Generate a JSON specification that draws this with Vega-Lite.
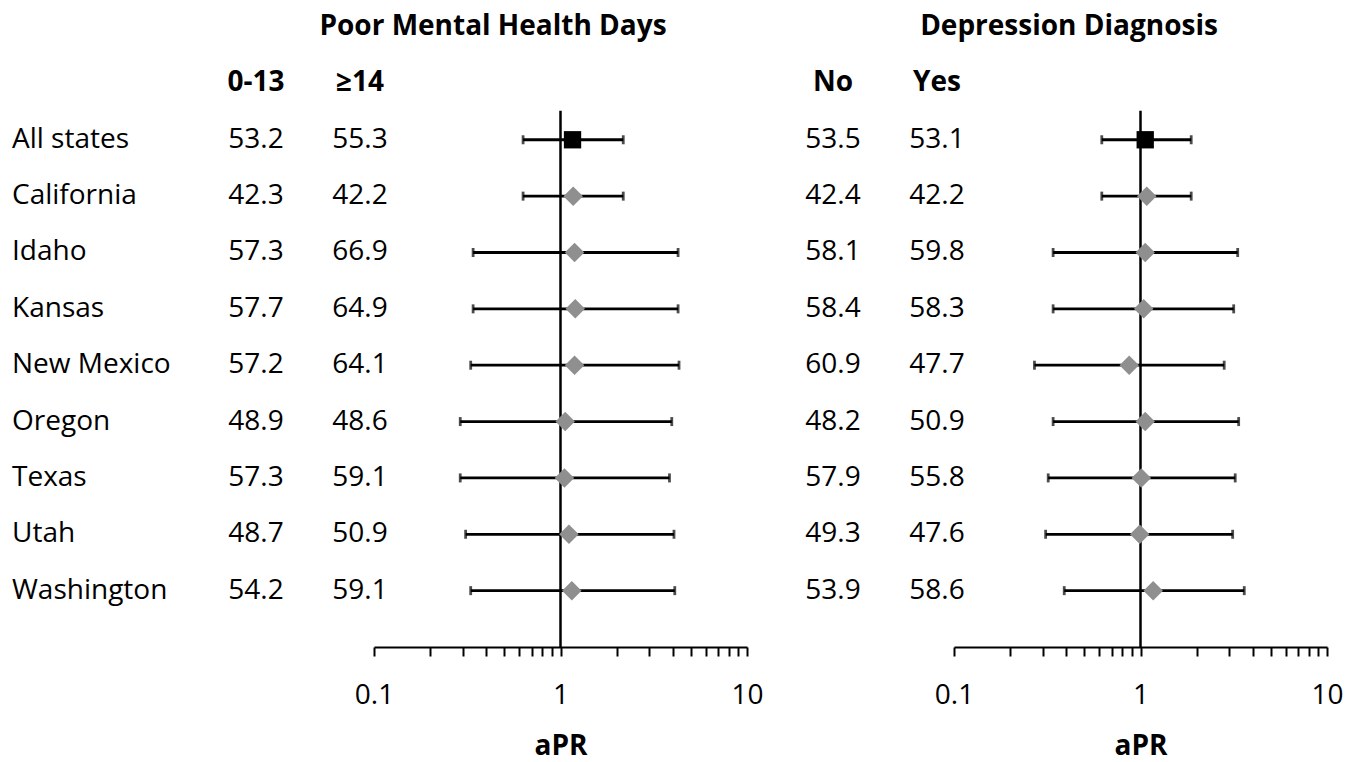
{
  "$schema": "https://vega.github.io/schema/vega-lite/v6.json",
  "width": 1363,
  "height": 647,
  "padding": {"left": 0, "top": 0, "right": 0, "bottom": 115},
  "autosize": {"type": "none"},
  "background": "white",
  "config": {
    "view": {"stroke": null},
    "text": {"font": "Open Sans", "fontSize": 28, "color": "black"},
    "axis": {"labelFont": "Open Sans", "titleFont": "Open Sans"}
  },
  "datasets": {
    "rows": [
      {"state": "All states", "mh_0_13": 53.2, "mh_ge14": 55.3, "mh_apr": 1.16, "mh_lo": 0.63, "mh_hi": 2.17, "dep_no": 53.5, "dep_yes": 53.1, "dep_apr": 1.06, "dep_lo": 0.62, "dep_hi": 1.87},
      {"state": "California", "mh_0_13": 42.3, "mh_ge14": 42.2, "mh_apr": 1.17, "mh_lo": 0.63, "mh_hi": 2.17, "dep_no": 42.4, "dep_yes": 42.2, "dep_apr": 1.08, "dep_lo": 0.62, "dep_hi": 1.87},
      {"state": "Idaho", "mh_0_13": 57.3, "mh_ge14": 66.9, "mh_apr": 1.19, "mh_lo": 0.34, "mh_hi": 4.27, "dep_no": 58.1, "dep_yes": 59.8, "dep_apr": 1.06, "dep_lo": 0.34, "dep_hi": 3.32},
      {"state": "Kansas", "mh_0_13": 57.7, "mh_ge14": 64.9, "mh_apr": 1.2, "mh_lo": 0.34, "mh_hi": 4.27, "dep_no": 58.4, "dep_yes": 58.3, "dep_apr": 1.04, "dep_lo": 0.34, "dep_hi": 3.16},
      {"state": "New Mexico", "mh_0_13": 57.2, "mh_ge14": 64.1, "mh_apr": 1.19, "mh_lo": 0.33, "mh_hi": 4.32, "dep_no": 60.9, "dep_yes": 47.7, "dep_apr": 0.87, "dep_lo": 0.27, "dep_hi": 2.81},
      {"state": "Oregon", "mh_0_13": 48.9, "mh_ge14": 48.6, "mh_apr": 1.06, "mh_lo": 0.29, "mh_hi": 3.95, "dep_no": 48.2, "dep_yes": 50.9, "dep_apr": 1.06, "dep_lo": 0.34, "dep_hi": 3.36},
      {"state": "Texas", "mh_0_13": 57.3, "mh_ge14": 59.1, "mh_apr": 1.05, "mh_lo": 0.29, "mh_hi": 3.84, "dep_no": 57.9, "dep_yes": 55.8, "dep_apr": 1.01, "dep_lo": 0.32, "dep_hi": 3.22},
      {"state": "Utah", "mh_0_13": 48.7, "mh_ge14": 50.9, "mh_apr": 1.11, "mh_lo": 0.31, "mh_hi": 4.06, "dep_no": 49.3, "dep_yes": 47.6, "dep_apr": 0.99, "dep_lo": 0.31, "dep_hi": 3.12},
      {"state": "Washington", "mh_0_13": 54.2, "mh_ge14": 59.1, "mh_apr": 1.15, "mh_lo": 0.33, "mh_hi": 4.1, "dep_no": 53.9, "dep_yes": 58.6, "dep_apr": 1.17, "dep_lo": 0.39, "dep_hi": 3.6}
    ],
    "headers": [
      {"row": "_hdr", "col": "mh_0_13", "label": "0-13"},
      {"row": "_hdr", "col": "mh_ge14", "label": "≥14"},
      {"row": "_hdr", "col": "dep_no", "label": "No"},
      {"row": "_hdr", "col": "dep_yes", "label": "Yes"},
      {"row": "_title", "col": "mh_title", "label": "Poor Mental Health Days"},
      {"row": "_title", "col": "dep_title", "label": "Depression Diagnosis"}
    ],
    "one": [{"ref": 1}]
  },
  "layer": [
    {
      "data": {"name": "rows"},
      "mark": {"type": "text", "align": "left", "baseline": "middle"},
      "encoding": {
        "x": {"datum": "label", "type": "nominal", "scale": {"type": "point", "domain": ["label"], "range": [12, 12], "padding": 0}, "axis": null},
        "y": {"field": "state", "type": "nominal", "scale": {"type": "point", "domain": ["_title", "_hdr", "All states", "California", "Idaho", "Kansas", "New Mexico", "Oregon", "Texas", "Utah", "Washington", "_axis"], "padding": 0.24, "align": 1}, "axis": null},
        "text": {"field": "state", "type": "nominal"},
        "fontWeight": {"condition": {"test": "datum.state === 'All states'", "value": "bold"}, "value": "normal"}
      }
    },
    {
      "layer": [
        {
          "data": {"name": "rows"},
          "transform": [{"fold": ["mh_0_13", "mh_ge14"], "as": ["col", "val"]}],
          "mark": {"type": "text", "align": "center", "baseline": "middle"},
          "encoding": {
            "x": {"field": "col", "type": "nominal", "scale": {"type": "point", "domain": ["mh_0_13", "mh_ge14"], "range": [256, 360], "padding": 0}, "axis": null},
            "y": {"field": "state", "type": "nominal", "axis": null},
            "text": {"field": "val", "type": "quantitative", "format": ".1f"}
          }
        },
        {
          "data": {"name": "headers"},
          "transform": [{"filter": {"field": "col", "oneOf": ["mh_0_13", "mh_ge14"]}}],
          "mark": {"type": "text", "align": "center", "baseline": "middle", "fontWeight": "bold"},
          "encoding": {
            "x": {"field": "col", "type": "nominal", "axis": null},
            "y": {"field": "row", "type": "nominal", "axis": null},
            "text": {"field": "label", "type": "nominal"}
          }
        }
      ]
    },
    {
      "layer": [
        {
          "data": {"name": "rows"},
          "transform": [{"fold": ["dep_no", "dep_yes"], "as": ["col", "val"]}],
          "mark": {"type": "text", "align": "center", "baseline": "middle"},
          "encoding": {
            "x": {"field": "col", "type": "nominal", "scale": {"type": "point", "domain": ["dep_no", "dep_yes"], "range": [833, 937], "padding": 0}, "axis": null},
            "y": {"field": "state", "type": "nominal", "axis": null},
            "text": {"field": "val", "type": "quantitative", "format": ".1f"}
          }
        },
        {
          "data": {"name": "headers"},
          "transform": [{"filter": {"field": "col", "oneOf": ["dep_no", "dep_yes"]}}],
          "mark": {"type": "text", "align": "center", "baseline": "middle", "fontWeight": "bold"},
          "encoding": {
            "x": {"field": "col", "type": "nominal", "axis": null},
            "y": {"field": "row", "type": "nominal", "axis": null},
            "text": {"field": "label", "type": "nominal"}
          }
        }
      ]
    },
    {
      "data": {"name": "headers"},
      "transform": [{"filter": {"field": "row", "equal": "_title"}}],
      "mark": {"type": "text", "align": "center", "baseline": "middle", "fontWeight": "bold"},
      "encoding": {
        "x": {"field": "col", "type": "nominal", "scale": {"type": "point", "domain": ["mh_title", "dep_title"], "range": [493, 1069], "padding": 0}, "axis": null},
        "y": {"field": "row", "type": "nominal", "axis": null},
        "text": {"field": "label", "type": "nominal"}
      }
    },
    {
      "layer": [
        {
          "data": {"name": "one"},
          "mark": {"type": "rule", "color": "black", "strokeWidth": 2.5, "yOffset": -29},
          "encoding": {
            "x": {"field": "ref", "type": "quantitative", "scale": {"type": "log", "domain": [0.1, 10], "range": [374, 747], "nice": false},
              "axis": {"orient": "bottom", "values": [0.1, 0.2, 0.3, 0.4, 0.5, 0.6, 0.7, 0.8, 0.9, 1, 2, 3, 4, 5, 6, 7, 8, 9, 10],
                "labelExpr": "datum.value == 0.1 || datum.value == 1 || datum.value == 10 ? '' + datum.value : ''",
                "labelOverlap": false, "labelFlush": false, "labelFontSize": 28, "labelColor": "black", "labelPadding": 25,
                "title": "aPR", "titleFontSize": 28, "titleFontWeight": "bold", "titleColor": "black", "titlePadding": 23,
                "grid": false, "domainColor": "black", "domainWidth": 2, "tickColor": "black", "tickWidth": 2, "tickSize": 9}},
            "y": {"datum": "All states", "axis": null},
            "y2": {"datum": "_axis"}
          }
        },
        {
          "data": {"name": "rows"},
          "mark": {"type": "rule", "color": "black", "strokeWidth": 2.8},
          "encoding": {
            "x": {"field": "mh_lo", "type": "quantitative"},
            "x2": {"field": "mh_hi"},
            "y": {"field": "state", "type": "nominal", "axis": null}
          }
        },
        {
          "data": {"name": "rows"},
          "mark": {"type": "tick", "color": "black", "thickness": 2.8, "size": 9},
          "encoding": {
            "x": {"field": "mh_lo", "type": "quantitative"},
            "y": {"field": "state", "type": "nominal", "axis": null}
          }
        },
        {
          "data": {"name": "rows"},
          "mark": {"type": "tick", "color": "black", "thickness": 2.8, "size": 9},
          "encoding": {
            "x": {"field": "mh_hi", "type": "quantitative"},
            "y": {"field": "state", "type": "nominal", "axis": null}
          }
        },
        {
          "data": {"name": "rows"},
          "mark": {"type": "point", "filled": true, "opacity": 1, "strokeWidth": 0},
          "encoding": {
            "x": {"field": "mh_apr", "type": "quantitative"},
            "y": {"field": "state", "type": "nominal", "axis": null},
            "shape": {"condition": {"test": "datum.state === 'All states'", "value": "square"}, "value": "diamond"},
            "color": {"condition": {"test": "datum.state === 'All states'", "value": "black"}, "value": "#8f8f8f"},
            "size": {"condition": {"test": "datum.state === 'All states'", "value": 300}, "value": 380}
          }
        }
      ]
    },
    {
      "layer": [
        {
          "data": {"name": "one"},
          "mark": {"type": "rule", "color": "black", "strokeWidth": 2.5, "yOffset": -29},
          "encoding": {
            "x": {"field": "ref", "type": "quantitative", "scale": {"type": "log", "domain": [0.1, 10], "range": [954, 1327], "nice": false},
              "axis": {"orient": "bottom", "values": [0.1, 0.2, 0.3, 0.4, 0.5, 0.6, 0.7, 0.8, 0.9, 1, 2, 3, 4, 5, 6, 7, 8, 9, 10],
                "labelExpr": "datum.value == 0.1 || datum.value == 1 || datum.value == 10 ? '' + datum.value : ''",
                "labelOverlap": false, "labelFlush": false, "labelFontSize": 28, "labelColor": "black", "labelPadding": 25,
                "title": "aPR", "titleFontSize": 28, "titleFontWeight": "bold", "titleColor": "black", "titlePadding": 23,
                "grid": false, "domainColor": "black", "domainWidth": 2, "tickColor": "black", "tickWidth": 2, "tickSize": 9}},
            "y": {"datum": "All states", "axis": null},
            "y2": {"datum": "_axis"}
          }
        },
        {
          "data": {"name": "rows"},
          "mark": {"type": "rule", "color": "black", "strokeWidth": 2.8},
          "encoding": {
            "x": {"field": "dep_lo", "type": "quantitative"},
            "x2": {"field": "dep_hi"},
            "y": {"field": "state", "type": "nominal", "axis": null}
          }
        },
        {
          "data": {"name": "rows"},
          "mark": {"type": "tick", "color": "black", "thickness": 2.8, "size": 9},
          "encoding": {
            "x": {"field": "dep_lo", "type": "quantitative"},
            "y": {"field": "state", "type": "nominal", "axis": null}
          }
        },
        {
          "data": {"name": "rows"},
          "mark": {"type": "tick", "color": "black", "thickness": 2.8, "size": 9},
          "encoding": {
            "x": {"field": "dep_hi", "type": "quantitative"},
            "y": {"field": "state", "type": "nominal", "axis": null}
          }
        },
        {
          "data": {"name": "rows"},
          "mark": {"type": "point", "filled": true, "opacity": 1, "strokeWidth": 0},
          "encoding": {
            "x": {"field": "dep_apr", "type": "quantitative"},
            "y": {"field": "state", "type": "nominal", "axis": null},
            "shape": {"condition": {"test": "datum.state === 'All states'", "value": "square"}, "value": "diamond"},
            "color": {"condition": {"test": "datum.state === 'All states'", "value": "black"}, "value": "#8f8f8f"},
            "size": {"condition": {"test": "datum.state === 'All states'", "value": 300}, "value": 380}
          }
        }
      ]
    }
  ],
  "resolve": {"scale": {"x": "independent"}, "axis": {"x": "independent"}}
}
